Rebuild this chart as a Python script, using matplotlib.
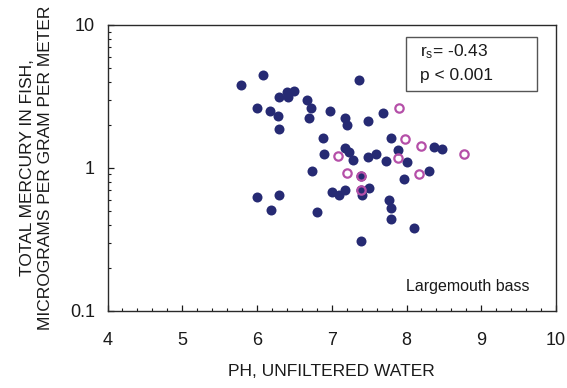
import matplotlib
matplotlib.use("Agg")
import matplotlib.pyplot as plt
from matplotlib.patches import Rectangle
from matplotlib.ticker import LogLocator, MultipleLocator, FixedLocator, FixedFormatter

plt.rcParams['font.family'] = ['Liberation Sans', 'DejaVu Sans']
plt.rcParams['mathtext.fontset'] = 'custom'
plt.rcParams['mathtext.rm'] = 'Liberation Sans'

# largemouth bass samples (filled)
ph_fish = [5.79, 6.08, 6.00, 6.18, 6.28, 6.29, 6.29, 6.40, 6.49, 6.41,
           6.67, 6.72, 6.70, 6.97, 6.88, 6.89, 6.74, 7.37, 7.18, 7.20,
           7.49, 7.69, 7.79, 8.37, 8.48, 7.18, 7.23, 7.29, 7.49, 7.59,
           7.73, 7.89, 8.00, 7.39, 7.96, 8.30, 7.01, 7.10, 7.18, 7.39,
           7.50, 7.41, 7.77, 7.79, 7.79, 6.80, 8.10, 7.39, 6.00, 6.30,
           6.19]
hg_fish = [3.80, 4.47, 2.63, 2.50, 2.32, 1.87, 3.12, 3.42, 3.45, 3.14,
           2.99, 2.61, 2.25, 2.49, 1.62, 1.25, 0.95, 4.12, 2.25, 1.98,
           2.14, 2.44, 1.63, 1.40, 1.35, 1.37, 1.30, 1.14, 1.20, 1.26,
           1.11, 1.34, 1.10, 0.88, 0.84, 0.95, 0.68, 0.65, 0.70, 0.70,
           0.72, 0.65, 0.60, 0.52, 0.44, 0.49, 0.38, 0.31, 0.63, 0.65,
           0.51]

# open circles
ph_open = [7.90, 7.98, 8.19, 8.77, 7.09, 7.89, 7.20, 7.39, 7.39, 8.17]
hg_open = [2.61, 1.59, 1.43, 1.26, 1.22, 1.17, 0.92, 0.88, 0.70, 0.91]

x_ticks = [4, 5, 6, 7, 8, 9, 10]
y_ticks = [0.1, 1, 10]
y_tick_labels = ['0.1', '1', '10']

fig = plt.figure(figsize=(5.67, 3.88), dpi=100)
ax = fig.add_axes([0.1896, 0.1992, 0.7910, 0.7364])

ax.plot(ph_fish, hg_fish, 'o', color='#262a73', markersize=7.2, markeredgewidth=0, zorder=3)
ax.plot(ph_open, hg_open, 'o', markerfacecolor='none', markeredgecolor='#b54fa8',
        markersize=6.0, markeredgewidth=1.6, zorder=4)

ax.set_yscale('log')
ax.set_xlim(4, 10)
ax.set_ylim(0.1, 10)

ax.xaxis.set_major_locator(FixedLocator(x_ticks))
ax.xaxis.set_minor_locator(MultipleLocator(0.2))
ax.yaxis.set_major_locator(FixedLocator(y_ticks))
ax.yaxis.set_major_formatter(FixedFormatter(y_tick_labels))
ax.yaxis.set_minor_locator(LogLocator(base=10, subs=range(2, 10)))
ax.yaxis.set_minor_formatter(plt.NullFormatter())

ax.tick_params(which='both', direction='in', top=False, right=False, colors='#1a1a1a')
ax.tick_params(which='major', length=4, width=0.9, labelsize=13)
ax.tick_params(which='minor', length=2.2, width=0.8)
ax.tick_params(axis='x', which='major', pad=15)
ax.tick_params(axis='y', which='major', pad=9)

for s in ax.spines.values():
    s.set_linewidth(1.0)
    s.set_color('#2a2a2a')

ax.set_xlabel('PH, UNFILTERED WATER', fontsize=12.5, color='#1a1a1a')
ax.xaxis.set_label_coords(0.5, -0.185)
ax.set_ylabel('TOTAL MERCURY IN FISH,\nMICROGRAMS PER GRAM PER METER',
              fontsize=12.5, color='#1a1a1a', linespacing=1.2)
ax.yaxis.set_label_coords(-0.122, 0.5)

ax.add_patch(Rectangle((0.666, 0.768), 0.291, 0.19, transform=ax.transAxes,
                       fill=False, edgecolor='#555555', linewidth=1.0, zorder=5))
ax.text(0.697, 0.905, r'$\mathregular{r_s}$= -0.43', transform=ax.transAxes,
        fontsize=12.5, va='center', ha='left', color='#1a1a1a')
ax.text(0.697, 0.824, 'p < 0.001', transform=ax.transAxes,
        fontsize=12.5, va='center', ha='left', color='#1a1a1a')
ax.text(0.665, 0.083, 'Largemouth bass', transform=ax.transAxes,
        fontsize=11.5, va='center', ha='left', color='#1a1a1a')

fig.savefig('out.png', dpi=100)
